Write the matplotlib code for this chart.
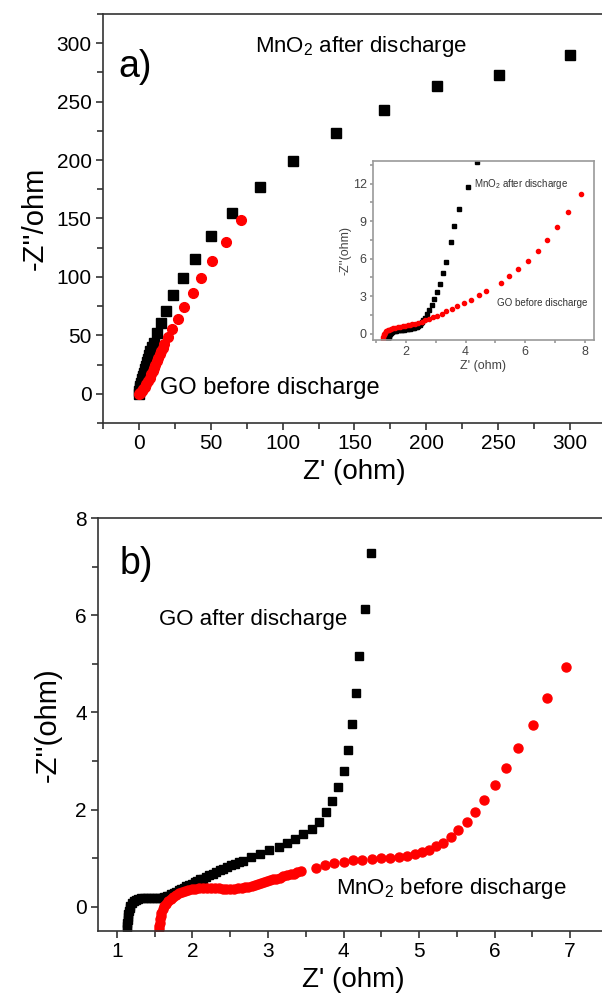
import matplotlib
matplotlib.use('Agg')
import matplotlib.pyplot as plt
from matplotlib.ticker import MultipleLocator

plt.rcParams['font.family'] = ['Liberation Sans', 'DejaVu Sans']
plt.rcParams['mathtext.fontset'] = 'custom'
plt.rcParams['mathtext.rm'] = 'Liberation Sans'
plt.rcParams['mathtext.it'] = 'Liberation Sans'

# panel a: MnO2 after discharge (black) / GO before discharge (red)
a_mno2_x = [0, 0.3, 0.7, 1.1, 1.6, 2.1, 2.8, 3.5, 4.1, 4.8, 5.6, 6.4, 7.2, 8.0, 9.1, 10.2,
            12.6, 15.5, 19.2, 24.0, 30.5, 39.3, 50.2, 64.9, 84.2, 107.4, 137.0, 170.7,
            207.6, 250.6, 300.0]
a_mno2_y = [0, 2.3, 4.5, 6.6, 9.5, 12.3, 15.0, 18.0, 21.0, 23.6, 27.0, 30.0, 33.0, 36.5, 40.0, 43.6,
            51.6, 60.7, 71.2, 84.6, 98.9, 115.4, 134.8, 154.7, 177.0, 199.4, 223.0, 242.7,
            263.0, 272.6, 289.5]
a_go_x = [0, 0.5, 1.1, 2.1, 3.2, 4.2, 5.3, 6.4, 7.5, 8.5, 9.6, 10.5, 11.5, 12.4, 13.4, 14.4,
          15.5, 16.5, 17.6, 20.0, 23.2, 27.0, 31.5, 37.4, 43.3, 50.8, 60.6, 71.0]
a_go_y = [-0.5, 0.3, 0.9, 2.2, 3.7, 5.8, 8.0, 10.8, 13.7, 16.5, 19.4, 22.2, 25.0, 28.0, 30.8, 33.6,
          36.5, 39.3, 42.2, 48.4, 55.6, 64.4, 74.4, 86.3, 99.0, 114.0, 130.0, 149.0]

# inset of panel a
ins_mno2_x = [1.41, 1.41, 1.42, 1.43, 1.45, 1.47, 1.50, 1.54, 1.58, 1.63, 1.68, 1.73, 1.78, 1.83,
              1.88, 1.93, 1.98, 2.03, 2.08, 2.13, 2.18, 2.23, 2.28, 2.33, 2.38, 2.42, 2.46, 2.49,
              2.52, 2.55, 2.59, 2.65, 2.72, 2.79, 2.87, 2.95, 3.05, 3.14, 3.26, 3.35, 3.51, 3.62,
              3.77, 4.07, 4.38]
ins_mno2_y = [-0.48, -0.38, -0.28, -0.18, -0.09, 0.0, 0.08, 0.14, 0.19, 0.23, 0.25, 0.27, 0.28, 0.30,
              0.31, 0.33, 0.35, 0.36, 0.38, 0.40, 0.42, 0.44, 0.47, 0.50, 0.55, 0.61, 0.70, 0.78,
              0.85, 0.95, 1.07, 1.28, 1.55, 1.87, 2.27, 2.80, 3.33, 4.00, 4.85, 5.73, 7.33, 8.59,
              10.0, 11.73, 13.73]
ins_go_x = [1.23, 1.24, 1.26, 1.28, 1.31, 1.35, 1.39, 1.44, 1.50, 1.57, 1.65, 1.73, 1.81, 1.89,
            1.98, 2.06, 2.14, 2.22, 2.31, 2.42, 2.53, 2.64, 2.77, 2.90, 3.04, 3.20, 3.36, 3.54,
            3.73, 3.94, 4.17, 4.45, 4.69, 5.18, 5.46, 5.75, 6.08, 6.41, 6.74, 7.05, 7.43, 7.88]
ins_go_y = [-0.40, -0.27, -0.13, -0.02, 0.08, 0.18, 0.27, 0.32, 0.37, 0.42, 0.48, 0.52, 0.56, 0.60,
            0.64, 0.68, 0.72, 0.76, 0.80, 0.88, 0.96, 1.07, 1.17, 1.31, 1.44, 1.60, 1.79, 1.97,
            2.19, 2.43, 2.72, 3.07, 3.41, 4.05, 4.59, 5.17, 5.79, 6.59, 7.52, 8.53, 9.73, 11.15]

# panel b: GO after discharge (black) / MnO2 before discharge (red)
b_go_x = [1.14, 1.14, 1.14, 1.15, 1.15, 1.15, 1.16, 1.17, 1.18, 1.20, 1.22, 1.25, 1.28, 1.32,
          1.36, 1.40, 1.44, 1.48, 1.52, 1.56, 1.60, 1.63, 1.66, 1.69, 1.72, 1.75, 1.78, 1.82,
          1.85, 1.89, 1.92, 1.96, 1.99, 2.03, 2.06, 2.10, 2.14, 2.18, 2.22, 2.27, 2.31, 2.36,
          2.41, 2.46, 2.51, 2.56, 2.61, 2.67, 2.77, 2.89, 3.01, 3.14, 3.25, 3.36, 3.47, 3.58,
          3.67, 3.77, 3.85, 3.93, 4.00, 4.06, 4.11, 4.16, 4.21, 4.29, 4.37]
b_go_y = [-0.45, -0.39, -0.33, -0.27, -0.21, -0.15, -0.09, -0.03, 0.02, 0.07, 0.11, 0.14, 0.16, 0.17,
          0.17, 0.17, 0.17, 0.17, 0.17, 0.17, 0.18, 0.19, 0.21, 0.23, 0.26, 0.29, 0.31, 0.34,
          0.37, 0.39, 0.42, 0.45, 0.47, 0.50, 0.53, 0.56, 0.58, 0.61, 0.65, 0.68, 0.71, 0.75,
          0.78, 0.82, 0.85, 0.88, 0.91, 0.95, 1.02, 1.09, 1.16, 1.22, 1.31, 1.39, 1.50, 1.60,
          1.75, 1.94, 2.18, 2.46, 2.79, 3.22, 3.77, 4.40, 5.17, 6.12, 7.27]
b_mno2_x = [1.56, 1.56, 1.57, 1.57, 1.58, 1.59, 1.61, 1.63, 1.65, 1.68, 1.71, 1.74, 1.78, 1.82,
            1.86, 1.90, 1.94, 1.99, 2.04, 2.09, 2.14, 2.19, 2.25, 2.30, 2.35, 2.40, 2.45, 2.50,
            2.55, 2.60, 2.65, 2.70, 2.74, 2.79, 2.83, 2.87, 2.91, 2.95, 2.99, 3.03, 3.07, 3.11,
            3.16, 3.20, 3.25, 3.30, 3.34, 3.39, 3.44, 3.63, 3.75, 3.87, 4.00, 4.13, 4.25, 4.38,
            4.50, 4.62, 4.73, 4.84, 4.94, 5.04, 5.13, 5.23, 5.32, 5.42, 5.51, 5.63, 5.74, 5.86,
            6.00, 6.15, 6.31, 6.51, 6.69, 6.95]
b_mno2_y = [-0.46, -0.40, -0.33, -0.26, -0.19, -0.12, -0.05, 0.01, 0.06, 0.11, 0.16, 0.20, 0.24, 0.28,
            0.31, 0.33, 0.35, 0.36, 0.37, 0.38, 0.39, 0.39, 0.39, 0.38, 0.38, 0.37, 0.37, 0.37,
            0.37, 0.38, 0.39, 0.40, 0.41, 0.43, 0.44, 0.46, 0.48, 0.50, 0.52, 0.54, 0.56, 0.58,
            0.60, 0.63, 0.65, 0.67, 0.68, 0.71, 0.74, 0.80, 0.85, 0.90, 0.93, 0.96, 0.97, 0.99,
            1.00, 1.01, 1.03, 1.05, 1.08, 1.12, 1.17, 1.24, 1.32, 1.43, 1.58, 1.75, 1.94, 2.19,
            2.50, 2.86, 3.27, 3.75, 4.29, 4.93]

RED = '#ff0000'


def style_axis(ax, color='#333333', size=14, length=5):
    for sp in ax.spines.values():
        sp.set_color(color)
        sp.set_linewidth(1.2)
    ax.tick_params(which='both', direction='out', color=color, width=1.2, labelsize=size, pad=3)
    ax.tick_params(which='major', length=length)
    ax.tick_params(which='minor', length=length * 0.8)


fig = plt.figure(figsize=(6.02, 10.08), dpi=100)

# ---- panel a
ax1 = fig.add_axes([0.171, 0.5804, 0.8355, 0.4057])
ax1.plot(a_mno2_x, a_mno2_y, 's', color='black', ms=6.5, mec='black', clip_on=False)
ax1.plot(a_go_x, a_go_y, 'o', color=RED, ms=7, mec=RED)
ax1.set_xlim(-25, 325)
ax1.set_ylim(-25, 325)
ax1.xaxis.set_major_locator(MultipleLocator(50))
ax1.xaxis.set_minor_locator(MultipleLocator(25))
ax1.yaxis.set_major_locator(MultipleLocator(50))
ax1.yaxis.set_minor_locator(MultipleLocator(25))
style_axis(ax1, size=15)
ax1.set_xlabel("Z' (ohm)", fontsize=20, labelpad=4)
ax1.set_ylabel("-Z''/ohm", fontsize=21, labelpad=6)
ax1.text(-14, 280, 'a)', fontsize=27, va='center')
ax1.text(81, 297, 'MnO$_\\mathrm{2}$ after discharge', fontsize=16, va='center')
ax1.text(15, 5, 'GO before discharge', fontsize=17, va='center')

# inset
ax_in = fig.add_axes([0.6196, 0.6627, 0.367, 0.1776])
ax_in.plot(ins_mno2_x, ins_mno2_y, 's', color='black', ms=2.6, mec='black')
ax_in.plot(ins_go_x, ins_go_y, 'o', color=RED, ms=3, mec=RED)
ax_in.set_xlim(0.9, 8.3)
ax_in.set_ylim(-0.5, 13.8)
ax_in.xaxis.set_major_locator(MultipleLocator(2))
ax_in.xaxis.set_minor_locator(MultipleLocator(1))
ax_in.yaxis.set_major_locator(MultipleLocator(3))
ax_in.yaxis.set_minor_locator(MultipleLocator(1.5))
style_axis(ax_in, color='#9a9a9a', size=9, length=2.5)
ax_in.tick_params(labelcolor='#444444', pad=2)
ax_in.set_xlabel("Z' (ohm)", fontsize=9, color='#444444', labelpad=1)
ax_in.set_ylabel("-Z''(ohm)", fontsize=9, color='#444444', labelpad=1)
ax_in.text(4.27, 12.0, 'MnO$_\\mathrm{2}$ after discharge', fontsize=7, va='center', color='#333333')
ax_in.text(5.05, 2.45, 'GO before discharge', fontsize=7, va='center', color='#333333')

# ---- panel b
ax2 = fig.add_axes([0.1628, 0.0764, 0.847, 0.4097])
ax2.plot(b_go_x, b_go_y, 's', color='black', ms=6, mec='black')
ax2.plot(b_mno2_x, b_mno2_y, 'o', color=RED, ms=6.5, mec=RED)
ax2.set_xlim(0.75, 7.5)
ax2.set_ylim(-0.5, 8)
ax2.xaxis.set_major_locator(MultipleLocator(1))
ax2.xaxis.set_minor_locator(MultipleLocator(0.5))
ax2.yaxis.set_major_locator(MultipleLocator(2))
ax2.yaxis.set_minor_locator(MultipleLocator(1))
style_axis(ax2, size=15)
ax2.set_xlabel("Z' (ohm)", fontsize=20, labelpad=4)
ax2.set_ylabel("-Z''(ohm)", fontsize=21, labelpad=10)
ax2.text(1.04, 7.05, 'b)', fontsize=27, va='center')
ax2.text(1.56, 5.92, 'GO after discharge', fontsize=16, va='center')
ax2.text(3.9, 0.38, 'MnO$_\\mathrm{2}$ before discharge', fontsize=16, va='center')

fig.savefig('out.png', dpi=100)
